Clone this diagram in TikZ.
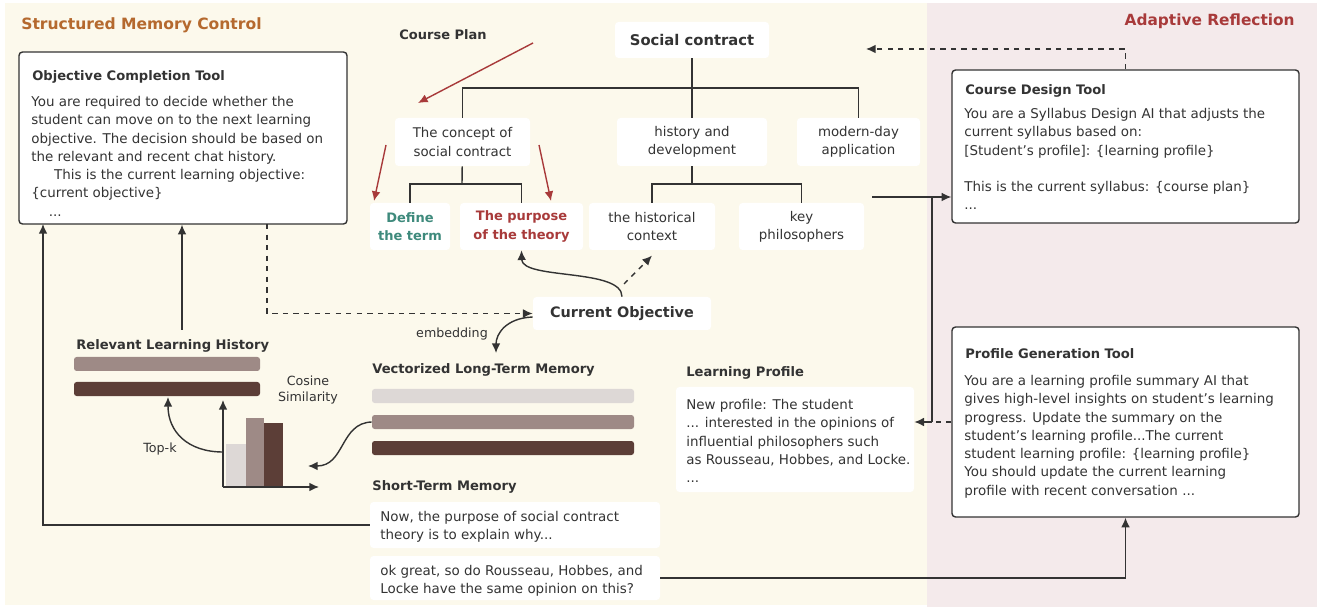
\documentclass[tikz,border=0pt]{standalone}
\usepackage{fontspec}
\setmainfont{DejaVu Sans}
\usetikzlibrary{positioning,fit,arrows.meta}

\definecolor{creambg}{HTML}{FCF9EC}
\definecolor{pinkbg}{HTML}{F4EAEB}
\definecolor{inkc}{HTML}{333333}
\definecolor{barlight}{HTML}{DDD8D6}
\definecolor{barmid}{HTML}{9E8A86}
\definecolor{bardark}{HTML}{5C3E37}
\definecolor{planred}{HTML}{A83A3A}
\definecolor{termteal}{HTML}{3E8A7C}
\definecolor{memorange}{HTML}{B5692E}

\tikzset{
  panel/.style={draw=inkc, fill=white, line width=0.8pt, rounded corners=2pt, inner sep=0pt},
  card/.style={fill=white, rounded corners=2pt, inner sep=0pt, align=center, text=inkc,
    font=\fontsize{7.6}{10.4}\selectfont},
  wh/.style 2 args={minimum width=#1*0.02cm, minimum height=#2*0.02cm},
  head/.style={font=\bfseries\fontsize{7.45}{10}\selectfont, text=inkc, inner sep=0pt, anchor=west},
  body/.style={font=\fontsize{7.65}{10.4}\selectfont, text=inkc, align=left, inner sep=0pt, anchor=north west},
  note/.style={font=\fontsize{7.2}{9.6}\selectfont, text=inkc, align=center, inner sep=0pt},
  bar/.style={inner sep=0pt, rounded corners=1.5pt},
  link/.style={draw=inkc, line width=0.8pt},
  arr/.style={link, -{Latex[length=5.5pt,width=5pt]}},
  planarr/.style={draw=planred, line width=0.8pt, -{Latex[length=5.5pt,width=5pt]}},
}

\begin{document}
\begin{tikzpicture}[x=0.02cm, y=-0.02cm]
	\useasboundingbox (0,0) rectangle (1317,607);
	% backgrounds
	\fill[creambg] (5,3) rectangle (927,605);
	\fill[pinkbg] (927,3) rectangle (1317,607);
	\node[anchor=west, inner sep=0pt, text=memorange, font=\bfseries\fontsize{8.85}{11}\selectfont] at (21,25) {Structured Memory Control};
	\node[anchor=east, inner sep=0pt, text=planred, font=\bfseries\fontsize{8.75}{11}\selectfont] at (1295,21) {Adaptive Reflection};

	% objective completion tool
	\node[panel, fit={(19,52) (347,224)}] (octool) {};
	\node[head] at (32,77) {Objective Completion Tool};
	\node[body] at (31,96) {You are required to decide whether the\\
		student can move on to the next learning\\
		objective. The decision should be based on\\
		the relevant and recent chat history.\\
		\hspace*{13pt}This is the current learning objective:\\
		\{current objective\}\\
		\hspace*{10pt}...};

	% course plan tree
	\node[inner sep=0pt, text=inkc, font=\bfseries\fontsize{7.4}{9}\selectfont] (plan) at (443,35) {Course Plan};
	\node[card, wh={154}{36}, font=\bfseries\fontsize{8.4}{10}\selectfont] (social) at (692,40) {Social contract};
	\node[card, wh={135}{48}] (concept) at (462.5,142) {The concept of\\social contract};
	\node[card, wh={150}{48}] (history) at (692,142) {history and\\development};
	\node[card, wh={123}{48}] (modern) at (858.5,142) {modern-day\\application};
	\node[card, wh={80}{47}, text=termteal, font=\bfseries\fontsize{7.4}{10.4}\selectfont] (define) at (410,226.5) {Define\\the term};
	\node[card, wh={123}{47}, text=planred, font=\bfseries\fontsize{7.4}{10.4}\selectfont] (purpose) at (521.5,226.5) {The purpose\\of the theory};
	\node[card, wh={126}{47}] (context) at (652,226.5) {the historical\\context};
	\node[card, wh={125}{47}] (keyph) at (801.5,226.5) {key\\philosophers};

	\coordinate (rootj) at (692,88);
	\coordinate (conj) at (462,184);
	\coordinate (hisj) at (692,184);
	\draw[link] (social) -- (rootj);
	\draw[link] (concept.north) |- (rootj) -| (modern.north);
	\draw[link] (rootj) -- (history.north);
	\draw[link] (concept) -- (conj);
	\draw[link] (define.north) |- (conj) -| (purpose.north);
	\draw[link] (history) -- (hisj);
	\draw[link] (context.north) |- (hisj) -| (keyph.north);

	\coordinate (planfrom) at (533,43);
	\coordinate (planto) at (418,103);
	\draw[planarr] (planfrom) -- (planto);
	\draw[planarr] (386,145) -- (374,201);
	\draw[planarr] (539,145) -- (551,201);

	% current objective
	\node[card, wh={178}{33}, font=\bfseries\fontsize{8.2}{10}\selectfont] (cur) at (622,313.5) {Current Objective};
	\draw[arr] (cur.north) .. controls (622,268) and (522,280) .. (purpose.south);
	\coordinate (cursplit) at (624,284);
	\draw[arr, dashed] (cursplit) -- ([yshift=-3pt]context.south);
	\coordinate (octdash) at (267,224);
	\draw[arr, dashed] (octdash) |- (cur.west);
	\node[note] (embedlbl) at (452,334) {embedding};
	\draw[arr] ([yshift=-2pt]cur.west) .. controls (506,318) and (496,334) .. (496,353);

	% long-term memory
	\node[head] at (372,370) {Vectorized Long-Term Memory};
	\node[bar, fill=barlight, fit={(372,389) (634,403)}] (vlight) {};
	\node[bar, fill=barmid, fit={(372,415) (634,429)}] (vmid) {};
	\node[bar, fill=bardark, fit={(372,441) (634,455)}] (vdark) {};

	% relevant history and similarity chart
	\node[head] (relhead) at (76,346) {Relevant Learning History};
	\node[bar, fill=barmid, fit={(74,357) (260,371)}] (rmid) {};
	\node[bar, fill=bardark, fit={(74,382) (260,396)}] (rdark) {};
	\fill[barlight] (226,444) rectangle (246,487);
	\fill[barmid] (246,418) rectangle (264,487);
	\fill[bardark] (264,423) rectangle (283,487);
	\coordinate (origin) at (223,487);
	\draw[arr] (origin) -- (223,400);
	\draw[arr] (origin) -- (319,487);
	\node[note] (coslbl) at (308,390) {Cosine\\Similarity};
	\node[note] (topk) at (160,449) {Top-k};
	\draw[arr] (223,452) .. controls (188,452) and (168,432) .. (168,397);
	\draw[arr] (vmid.west) .. controls (340,423) and (345,466) .. (308,466);
	\coordinate (relup) at (182,330);
	\draw[arr] (relup) -- (relup |- octool.south);

	% short-term memory
	\node[head] at (372,487) {Short-Term Memory};
	\node[card, fit={(370,502) (660,548)}] (msgA) {};
	\node[body] at (380,511) {Now, the purpose of social contract\\theory is to explain why...};
	\node[card, fit={(370,556) (660,600)}] (msgB) {};
	\node[body] at (380,565) {ok great, so do Rousseau, Hobbes, and\\Locke have the same opinion on this?};
	\coordinate (octleft) at (43,224);
	\draw[arr] (msgA.west) -| (octleft);

	% learning profile
	\node[head] at (686,373) {Learning Profile};
	\node[card, fit={(676,387) (914,492)}] (lprof) {};
	\node[body] at (686,399) {New profile: The student\\
		... interested in the opinions of\\
		influential philosophers such\\
		as Rousseau, Hobbes, and Locke.\\
		...};

	% adaptive reflection tools
	\node[panel, fit={(952,70) (1299,223)}] (cdt) {};
	\node[head] at (965,91) {Course Design Tool};
	\node[body] at (964,108) {You are a Syllabus Design AI that adjusts the\\
		current syllabus based on:\\
		{[}Student's profile{]}: \{learning profile\}\\[10.4pt]
		This is the current syllabus: \{course plan\}\\
		...};
	\node[panel, fit={(952,327) (1299,517)}] (pgt) {};
	\node[head] at (965,354) {Profile Generation Tool};
	\node[body] at (964,375) {You are a learning profile summary AI that\\
		gives high-level insights on student's learning\\
		progress. Update the summary on the\\
		student's learning profile...The current\\
		student learning profile: \{learning profile\}\\
		You should update the current learning\\
		profile with recent conversation ...};

	\draw[arr, dashed] (cdt.north) |- (866,49);
	\coordinate (feedin) at (872,197);
	\draw[arr] (feedin) -- (feedin -| cdt.west);
	\coordinate (vjoin) at (932,422);
	\draw[link] (vjoin) -- (vjoin |- feedin);
	\draw[arr] (vjoin) -- (vjoin -| lprof.east);
	\draw[link, dashed] (vjoin -| pgt.west) -- (vjoin);
	\draw[arr] (msgB.east) -| (pgt.south);
\end{tikzpicture}
\end{document}
